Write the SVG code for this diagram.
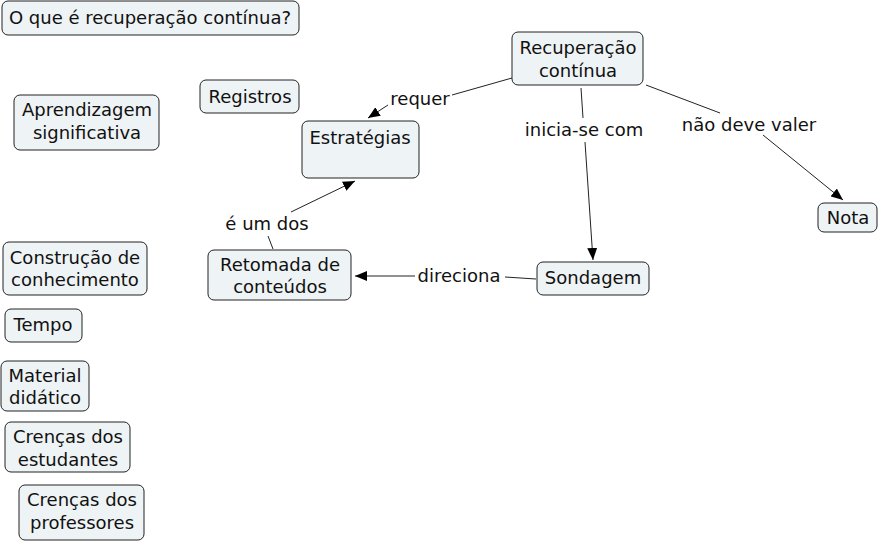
<svg xmlns="http://www.w3.org/2000/svg" width="879" height="543" viewBox="0 0 879 543">
<style>
.n rect{fill:#eef3f5;stroke:#222;stroke-width:1;}
text{font-family:"DejaVu Sans",Verdana,sans-serif;font-size:18px;fill:#111;text-anchor:middle;}
.c line{stroke:#222;stroke-width:1;}
</style>
<defs>
<marker id="ah" viewBox="0 0 12 10" refX="12" refY="5" markerWidth="12" markerHeight="10" markerUnits="userSpaceOnUse" orient="auto">
<path d="M0,0 L12,5 L0,10 Z" fill="#000"/>
</marker>
</defs>
<rect width="879" height="543" fill="#fff"/>
<g class="c">
<line x1="512" y1="78" x2="452" y2="95"/>
<line x1="388" y1="105" x2="368" y2="118" marker-end="url(#ah)"/>
<line x1="581" y1="88" x2="583" y2="118"/>
<line x1="585" y1="142" x2="593" y2="260" marker-end="url(#ah)"/>
<line x1="646" y1="85" x2="720" y2="113"/>
<line x1="763" y1="135" x2="843" y2="200" marker-end="url(#ah)"/>
<line x1="536" y1="279" x2="505" y2="277"/>
<line x1="415" y1="276" x2="355" y2="276" marker-end="url(#ah)"/>
<line x1="273" y1="249" x2="268" y2="236"/>
<line x1="291" y1="212" x2="355" y2="181" marker-end="url(#ah)"/>
<text x="420" y="105">requer</text>
<text x="584" y="136">inicia-se com</text>
<text x="749" y="131">não deve valer</text>
<text x="459" y="282">direciona</text>
<text x="267" y="230">é um dos</text>
</g>
<g id="n1" class="n"><rect x="2" y="1" width="297" height="34" rx="6"/><text x="150" y="24">O que é recuperação contínua?</text></g>
<g id="n2" class="n"><rect x="200" y="80" width="99" height="33" rx="6"/><text x="250" y="103">Registros</text></g>
<g id="n3" class="n"><rect x="14" y="95" width="145" height="55" rx="6"/><text x="87" y="116">Aprendizagem</text><text x="87" y="139">significativa</text></g>
<g id="n4" class="n"><rect x="302" y="121" width="117" height="57" rx="6"/><text x="360" y="144">Estratégias</text></g>
<g id="n5" class="n"><rect x="512" y="32" width="131" height="53" rx="6"/><text x="578" y="54">Recuperação</text><text x="578" y="77">contínua</text></g>
<g id="n6" class="n"><rect x="818" y="203" width="59" height="29" rx="6"/><text x="848" y="224">Nota</text></g>
<g id="n7" class="n"><rect x="537" y="262" width="112" height="33" rx="6"/><text x="593" y="284">Sondagem</text></g>
<g id="n8" class="n"><rect x="208" y="250" width="143" height="50" rx="6"/><text x="280" y="271">Retomada de</text><text x="280" y="293">conteúdos</text></g>
<g id="n9" class="n"><rect x="3" y="242" width="144" height="53" rx="6"/><text x="75" y="264">Construção de</text><text x="75" y="286">conhecimento</text></g>
<g id="n10" class="n"><rect x="5" y="309" width="77" height="33" rx="6"/><text x="43" y="331">Tempo</text></g>
<g id="n11" class="n"><rect x="1" y="361" width="88" height="50" rx="6"/><text x="45" y="382">Material</text><text x="45" y="404">didático</text></g>
<g id="n12" class="n"><rect x="5" y="422" width="125" height="50" rx="6"/><text x="68" y="443">Crenças dos</text><text x="68" y="466">estudantes</text></g>
<g id="n13" class="n"><rect x="19" y="485" width="125" height="55" rx="6"/><text x="82" y="506">Crenças dos</text><text x="82" y="529">professores</text></g>
</svg>
